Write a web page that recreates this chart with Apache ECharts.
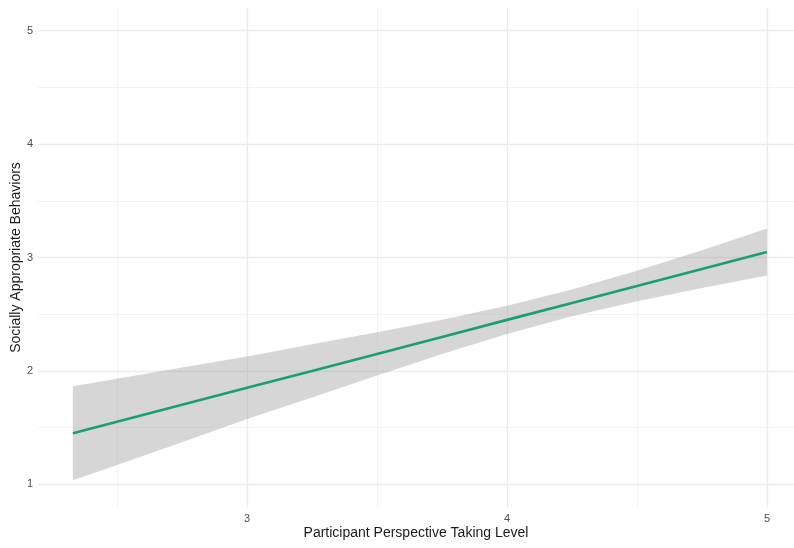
<!DOCTYPE html>
<html>
<head>
<meta charset="utf-8">
<script src="https://cdn.jsdelivr.net/npm/echarts@6/dist/echarts.min.js"></script>
<style>
html,body{margin:0;padding:0;background:#fff;}
#chart{width:794px;height:548px;}
</style>
</head>
<body>
<div id="chart"></div>
<script>
// Data
var xValues = [2.33, 2.5, 2.75, 3, 3.25, 3.5, 3.75, 4, 4.25, 4.5, 4.75, 5];
var fitValues = [1.45, 1.551, 1.701, 1.851, 2.000, 2.150, 2.300, 2.450, 2.599, 2.749, 2.898, 3.048];
var lowerValues = [1.035, 1.171, 1.371, 1.576, 1.766, 1.960, 2.148, 2.325, 2.481, 2.615, 2.732, 2.841];
var upperValues = [1.865, 1.931, 2.031, 2.126, 2.234, 2.340, 2.452, 2.575, 2.717, 2.883, 3.064, 3.255];
var xTicks = [3, 4, 5];
var xMinorTicks = [2.5, 3.5, 4.5];
var yTicks = [1, 2, 3, 4, 5];
var yMinorTicks = [1.5, 2.5, 3.5, 4.5];
var xTitle = 'Participant Perspective Taking Level';
var yTitle = 'Socially Appropriate Behaviors';

var chart = echarts.init(document.getElementById('chart'), null, {renderer: 'canvas'});

var lineData = xValues.map(function (x, i) { return [x, fitValues[i]]; });
var bandData = xValues.map(function (x, i) { return [x, lowerValues[i], upperValues[i]]; });

function gridLines(axisKey, vals) {
  return vals.map(function (v) { var o = {}; o[axisKey] = v; return o; });
}

var FONT = 'Liberation Sans, Arial, sans-serif';
var labelFont = {color: '#4d4d4d', fontSize: 11, fontFamily: FONT};

var option = {
  animation: false,
  backgroundColor: '#ffffff',
  grid: {left: 38, right: 0, top: 8, bottom: 41, containLabel: false, outerBoundsMode: 'none'},
  xAxis: {
    type: 'value',
    min: 2.196,
    max: 5.104,
    axisLine: {show: false},
    axisTick: {show: false},
    splitLine: {show: false},
    axisLabel: Object.assign({customValues: xTicks, margin: 6}, labelFont),
    name: xTitle,
    nameLocation: 'middle',
    nameGap: 19,
    nameMoveOverlap: false,
    nameTextStyle: {color: '#1a1a1a', fontSize: 14, fontFamily: FONT}
  },
  yAxis: {
    type: 'value',
    min: 0.8,
    max: 5.2,
    axisLine: {show: false},
    axisTick: {show: false},
    splitLine: {show: false},
    axisLabel: Object.assign({customValues: yTicks, margin: 5}, labelFont),
    name: yTitle,
    nameLocation: 'middle',
    nameGap: 15,
    nameMoveOverlap: false,
    nameTextStyle: {color: '#1a1a1a', fontSize: 14, fontFamily: FONT}
  },
  series: [
    {
      type: 'line',
      data: [],
      z: 0,
      zlevel: 0,
      silent: true,
      markLine: {
        silent: true,
        symbol: 'none',
        animation: false,
        z: 0,
        label: {show: false},
        lineStyle: {color: '#f0f0f0', width: 0.8, type: 'solid'},
        data: gridLines('xAxis', xMinorTicks).concat(gridLines('yAxis', yMinorTicks))
      }
    },
    {
      type: 'line',
      data: [],
      z: 0,
      zlevel: 0,
      silent: true,
      markLine: {
        silent: true,
        symbol: 'none',
        animation: false,
        z: 0,
        label: {show: false},
        lineStyle: {color: '#ebebeb', width: 1.3, type: 'solid'},
        data: gridLines('xAxis', xTicks).concat(gridLines('yAxis', yTicks))
      }
    },
    {
      type: 'custom',
      z: 10,
      silent: true,
      data: bandData,
      encode: {x: 0, y: [1, 2]},
      renderItem: function (params, api) {
        if (params.dataIndex !== 0) return null;
        var pts = [];
        for (var i = 0; i < bandData.length; i++) {
          pts.push(api.coord([bandData[i][0], bandData[i][2]]));
        }
        for (var j = bandData.length - 1; j >= 0; j--) {
          pts.push(api.coord([bandData[j][0], bandData[j][1]]));
        }
        return {
          type: 'polygon',
          z2: 100,
          shape: {points: pts},
          style: {fill: 'rgba(153,153,153,0.4)', stroke: null}
        };
      }
    },
    {
      type: 'line',
      z: 20,
      data: lineData,
      showSymbol: false,
      symbol: 'none',
      silent: true,
      lineStyle: {color: '#1b9e77', width: 2.6}
    }
  ]
};

chart.setOption(option);
</script>
</body>
</html>
